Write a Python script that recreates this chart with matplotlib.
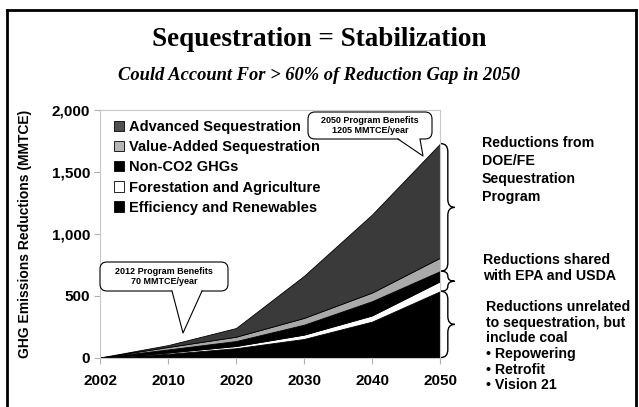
import numpy as np
import matplotlib
matplotlib.use("Agg")
import matplotlib.pyplot as plt
from matplotlib.patches import Patch, FancyBboxPatch, Polygon
from matplotlib.path import Path
from matplotlib.patches import PathPatch
from matplotlib.lines import Line2D
import matplotlib.transforms as mtransforms
from matplotlib.ticker import FuncFormatter

# ---- data ----
years = ['2002', '2010', '2020', '2030', '2040', '2050']
efficiency = [0, 30, 75, 150, 290, 535]
forestation = [0, 10, 18, 35, 50, 81]
non_co2 = [0, 25, 40, 80, 115, 82]
value_added = [0, 20, 35, 55, 70, 108]
advanced = [0, 15, 70, 340, 630, 922]
series_names = ['Efficiency and Renewables', 'Forestation and Agriculture',
                'Non-CO2 GHGs', 'Value-Added Sequestration', 'Advanced Sequestration']
yticks = [0, 500, 1000, 1500, 2000]

plt.rcParams['font.family'] = ['Liberation Sans', 'DejaVu Sans']

W, H = 639, 407
fig = plt.figure(figsize=(W / 100, H / 100), dpi=100)
ax = fig.add_axes([100 / W, 1 - 357.5 / H, 340 / W, (357.5 - 110) / H])

x = np.arange(len(years))
fills = ['#000000', '#ffffff', '#000000', '#a9a9a9', '#3a3a3a']
ax.stackplot(x, efficiency, forestation, non_co2, value_added, advanced,
             colors=fills, edgecolor='black', linewidth=0.6)

ax.set_xlim(0, len(years) - 1)
ax.set_ylim(0, 2000)
ax.set_xticks(x)
ax.set_xticklabels(years, fontsize=11, fontweight='bold')
ax.set_yticks(yticks)
ax.yaxis.set_major_formatter(FuncFormatter(lambda v, p: f'{int(v):,}'))
for lab in ax.get_yticklabels():
    lab.set_fontsize(11)
    lab.set_fontweight('bold')
ax.tick_params(axis='both', colors='#b0b0b0', labelcolor='black', length=4, width=0.8)
ax.tick_params(axis='x', pad=8)
ax.tick_params(axis='y', pad=3)
for s in ax.spines.values():
    s.set_color('#c8c8c8')
    s.set_linewidth(0.8)
ax.set_ylabel('GHG Emissions Reductions (MMTCE)', fontsize=10, fontweight='bold', labelpad=14)

# legend (top entry = Advanced)
leg_colors = ['#000000', '#ffffff', '#000000', '#b5b5b5', '#505050']
handles = [Patch(facecolor=c, edgecolor='black', linewidth=0.6) for c in leg_colors]
leg = ax.legend(handles[::-1], series_names[::-1], loc='upper left', frameon=False,
                prop={'weight': 'bold', 'size': 10.5}, handlelength=0.7, handleheight=0.7,
                handletextpad=0.35, labelspacing=0.42, borderaxespad=0.3,
                bbox_to_anchor=(0.01, 1.0))

# braces on the right at final year
cum = np.cumsum([efficiency[-1], forestation[-1], non_co2[-1], value_added[-1], advanced[-1]])
trans = mtransforms.blended_transform_factory(ax.transAxes, ax.transData)

def brace(y0, y1, x0=1.003, w=0.04, r=65):
    r = min(r, (y1 - y0) / 4)
    xm = x0 + w / 2
    xt = x0 + w
    ym = (y0 + y1) / 2
    verts = [(x0, y1), (xm, y1), (xm, y1 - r),
             (xm, ym + r), (xm, ym), (xt, ym),
             (xm, ym), (xm, ym - r),
             (xm, y0 + r), (xm, y0), (x0, y0)]
    codes = [Path.MOVETO, Path.CURVE3, Path.CURVE3,
             Path.LINETO, Path.CURVE3, Path.CURVE3,
             Path.CURVE3, Path.CURVE3,
             Path.LINETO, Path.CURVE3, Path.CURVE3]
    ax.add_patch(PathPatch(Path(verts, codes), transform=trans, fill=False,
                           edgecolor='black', linewidth=1.0, clip_on=False))

brace(cum[2], cum[4])
brace(cum[0], cum[2])
brace(0, cum[0])

# right-side texts
tk = dict(fontsize=10.2, fontweight='bold', ha='left', va='top', transform=fig.transFigure)
fig.text(482 / W, 1 - 136 / H, 'Reductions from\nDOE/FE\nSequestration\nProgram', linespacing=1.35, **tk)
fig.text(483 / W, 1 - 253 / H, 'Reductions shared\nwith EPA and USDA', linespacing=1.15, **tk)
fig.text(486 / W, 1 - 300 / H,
         'Reductions unrelated\nto sequestration, but\ninclude coal\n\u2022 Repowering\n\u2022 Retrofit\n\u2022 Vision 21',
         linespacing=1.15, **tk)

# titles
fig.text(0.5, 1 - 40 / H, 'Sequestration = Stabilization', ha='center', va='center',
         fontsize=19.5, fontweight='bold', family='Liberation Serif')
fig.text(0.5, 1 - 76 / H, 'Could Account For > 60% of Reduction Gap in 2050', ha='center', va='center',
         fontsize=13.3, fontweight='bold', style='italic', family='Liberation Serif')

# callout bubbles (pixel coords, y from top)
T = fig.dpi_scale_trans

def P(px, py):
    return (px / 100, (H - py) / 100)

def bubble(x0, y0, x1, y1, ba, bb, tx, ty, text):
    bx, by = P(x0, y1)
    w, h = (x1 - x0) / 100, (y1 - y0) / 100
    fig.patches.append(FancyBboxPatch((bx, by), w, h, boxstyle='round,pad=0,rounding_size=0.07',
                                      transform=T, facecolor='white', edgecolor='black',
                                      linewidth=0.8, zorder=5))
    fig.patches.append(Polygon([P(ba, y1 - 1), P(bb, y1 - 1), P(tx, ty)], closed=True, transform=T,
                               facecolor='white', edgecolor='none', zorder=6))
    fig.lines.append(Line2D(*zip(P(ba, y1), P(tx, ty), P(bb, y1)), transform=T,
                            color='black', linewidth=0.8, zorder=7))
    cx, cy = P((x0 + x1) / 2, (y0 + y1) / 2)
    fig.text(cx / (W / 100), cy / (H / 100), text, ha='center', va='center', fontsize=6.5,
             fontweight='bold', linespacing=1.2, zorder=8)

bubble(100, 262, 228, 291, 172, 202, 183, 333, '2012 Program Benefits\n70 MMTCE/year')
bubble(308, 112, 432, 139, 398, 420, 423, 156, '2050 Program Benefits\n1205 MMTCE/year')

# outer frame
for xs, ys in [((7, 7), (10, 407)), ((7, 636), (10, 10)), ((636, 636), (10, 407))]:
    fig.lines.append(Line2D([a / W for a in xs], [1 - b / H for b in ys], transform=fig.transFigure,
                            color='black', linewidth=2))

fig.savefig('out.png', dpi=100)
